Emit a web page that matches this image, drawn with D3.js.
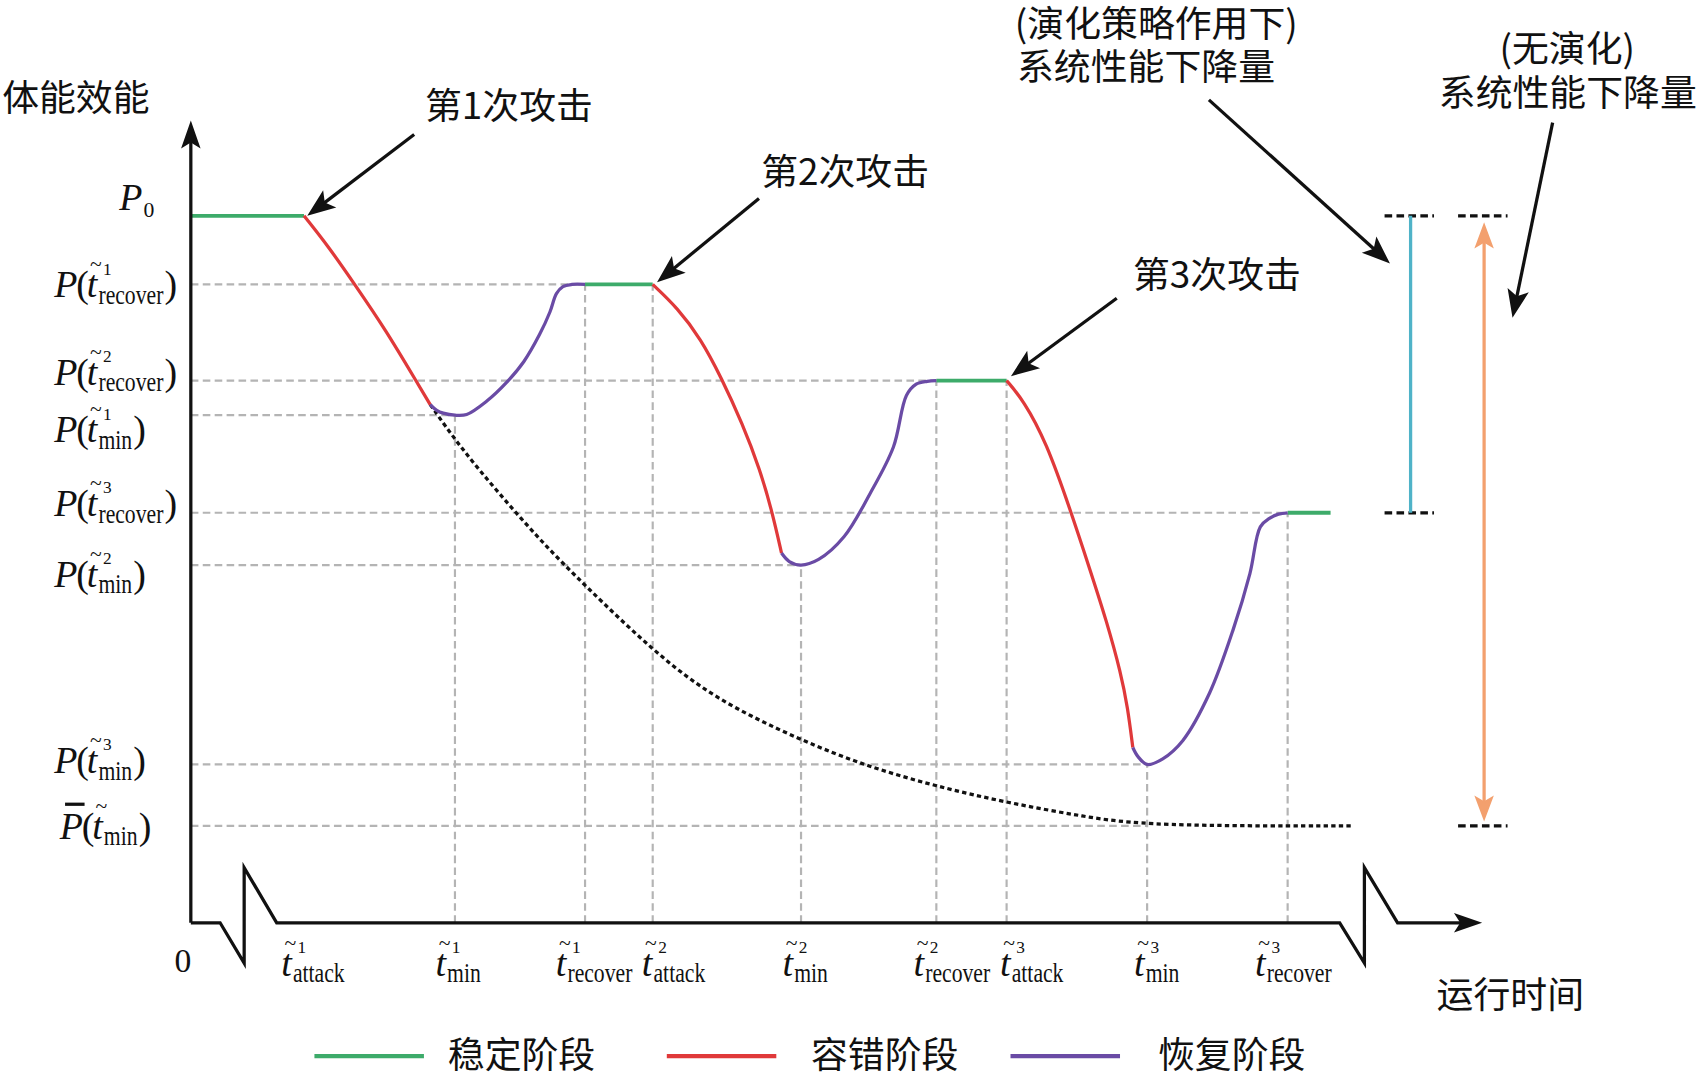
<!DOCTYPE html>
<html>
<head>
<meta charset="utf-8">
<script src="https://cdn.jsdelivr.net/npm/d3@7"></script>
<style>
  html, body { margin: 0; padding: 0; background: #fff; }
  svg { display: block; }
  .cn { font-family: "Noto Sans CJK SC", sans-serif; font-size: 34px; fill: #111; }
  .m { font-family: "Liberation Serif", "DejaVu Serif", serif; fill: #111; }
  .it { font-style: italic; }
</style>
</head>
<body>
<svg id="chart"></svg>
<script>
// time marks on the horizontal axis (time units 0..100)
const tickRounds = ['1', '1', '1', '2', '2', '2', '3', '3', '3'];
const tickSubs = ['attack', 'min', 'recover', 'attack', 'min', 'recover', 'attack', 'min', 'recover'];
const tickTimes = [8.7, 20.3, 30.3, 35.5, 46.9, 57.3, 62.7, 73.5, 84.3];

// performance levels read on the vertical axis (P0 = 100)
const levelRounds = ['', '1', '2', '1', '3', '2', '3', ''];
const levelSubs = ['0', 'recover', 'recover', 'min', 'recover', 'min', 'min', 'min'];
const levelValues = [100, 90.3, 76.7, 71.8, 58.0, 50.6, 22.4, 13.7];

// stable phases
const stable = [
  [[0, 100], [8.7, 100]],
  [[30.3, 90.3], [35.5, 90.3]],
  [[57.3, 76.7], [62.7, 76.7]],
  [[84.3, 58.0], [87.6, 58.0]]
];

// fault tolerant phases (after each attack)
const fault = [
  [[8.7, 100], [10.6, 95.6], [12.6, 90.3], [15.0, 83.8], [17.3, 76.7], [18.4, 73.3]],
  [[35.5, 90.3], [37.4, 87.0], [39.2, 82.6], [40.75, 77.2], [42.4, 70.6], [43.75, 64.1], [44.7, 58.0], [45.4, 52.3]],
  [[62.7, 76.7], [64.0, 73.9], [65.75, 68.0], [67.6, 58.4], [69.1, 50.0], [70.4, 42.6], [71.5, 35.2], [72.0, 30.5], [72.4, 24.8]]
];

// recovery phases
const recovery = [
  [[18.4, 73.3], [18.9, 72.5], [19.4, 72.1], [20.3, 71.8], [21.2, 71.9], [22.75, 73.8], [24.25, 76.4],
   [25.6, 79.4], [26.8, 83.2], [27.6, 86.4], [28.1, 89.0], [28.6, 90.0], [29.3, 90.3], [30.3, 90.3]],
  [[45.4, 52.3], [46.0, 51.1], [46.9, 50.6], [48.25, 51.4], [50.2, 54.6], [52.2, 60.7], [54.0, 67.3],
   [55.0, 74.6], [55.75, 76.2], [56.6, 76.6], [57.3, 76.7]],
  [[72.4, 24.8], [72.8, 23.5], [73.5, 22.4], [74.7, 23.2], [76.25, 25.8], [78.3, 32.5], [80.1, 41.4],
   [81.4, 49.4], [82.2, 56.0], [82.9, 57.2], [83.6, 57.8], [84.3, 58.0]]
];

// performance without evolution strategy
const noEvolution = [[18.4, 73.3], [20.7, 67.3], [23.7, 60.7], [27.0, 53.8], [30.3, 47.7], [35.5, 38.5],
  [40.3, 31.6], [46.9, 25.8], [52.0, 22.1], [57.3, 19.3], [62.7, 17.0], [68.7, 15.0], [73.5, 13.7], [89.25, 13.7]];

// dashed guides: [level index, tick index]
const hGuides = [[1, 3], [2, 6], [3, 1], [4, 8], [5, 4], [6, 7], [7, 7]];
const vGuides = [[1, 3], [2, 1], [3, 1], [4, 5], [5, 2], [6, 2], [7, 6], [8, 4]];

const legendNames = ['稳定阶段', '容错阶段', '恢复阶段'];

const W = 1567, H = 995;
const svg = d3.select('#chart')
    .attr('width', 1699).attr('height', 1079)
    .attr('viewBox', `0 0 ${W} ${H}`);

const x = d3.scaleLinear().domain([0, 100]).range([176, 1376]);
const y = d3.scaleLinear().domain([0, 100]).range([851, 199]);

const col = {
  stable: '#3dab6a', fault: '#e0393a', recover: '#6a4ba5',
  evo: '#4fb3c8', noevo: '#f3a06e', grid: '#b4b4b4', ink: '#111'
};

const smooth = d3.line().x((d) => x(d[0])).y((d) => y(d[1])).curve(d3.curveBasis);
const bendy = d3.line().x((d) => x(d[0])).y((d) => y(d[1])).curve(d3.curveCatmullRom.alpha(0.5));
const straight = d3.line().x((d) => x(d[0])).y((d) => y(d[1]));

// arrow head (notched), returns the point where the shaft should stop
function head(g, x1, y1, x2, y2, len, half, color) {
  const a = Math.atan2(y2 - y1, x2 - x1);
  const ux = Math.cos(a), uy = Math.sin(a);
  const bx = x2 - ux * len, by = y2 - uy * len;
  const nx = -uy, ny = ux;
  const pts = [[x2, y2], [bx + nx * half, by + ny * half],
    [x2 - ux * len * 0.78, y2 - uy * len * 0.78], [bx - nx * half, by - ny * half]];
  g.append('path').attr('d', 'M' + pts.join('L') + 'Z').attr('fill', color);
  return [x2 - ux * len * 0.7, y2 - uy * len * 0.7];
}
function arrow(g, x1, y1, x2, y2, color, w) {
  const e = head(g, x1, y1, x2, y2, 26, 10, color);
  g.append('line').attr('x1', x1).attr('y1', y1).attr('x2', e[0]).attr('y2', e[1])
      .attr('stroke', color).attr('stroke-width', w || 3);
}

const grid = svg.append('g');
const marks = svg.append('g');
const deco = svg.append('g');

// dashed guides
hGuides.forEach(([li, ti]) => {
  grid.append('line')
      .attr('x1', x(0)).attr('x2', x(tickTimes[ti]))
      .attr('y1', y(levelValues[li])).attr('y2', y(levelValues[li]))
      .attr('stroke', col.grid).attr('stroke-width', 2).attr('stroke-dasharray', '7,4');
});
vGuides.forEach(([ti, li]) => {
  grid.append('line')
      .attr('x1', x(tickTimes[ti])).attr('x2', x(tickTimes[ti]))
      .attr('y1', y(0)).attr('y2', y(levelValues[li]))
      .attr('stroke', col.grid).attr('stroke-width', 2).attr('stroke-dasharray', '7,4');
});

// curves
marks.append('path').attr('d', smooth(noEvolution)).attr('fill', 'none')
    .attr('stroke', col.ink).attr('stroke-width', 3).attr('stroke-dasharray', '4,3');
marks.selectAll('.stable').data(stable).join('path').attr('class', 'stable')
    .attr('d', straight).attr('fill', 'none').attr('stroke', col.stable).attr('stroke-width', 3.5);
marks.selectAll('.fault').data(fault).join('path').attr('class', 'fault')
    .attr('d', smooth).attr('fill', 'none').attr('stroke', col.fault).attr('stroke-width', 3);
marks.selectAll('.recover').data(recovery).join('path').attr('class', 'recover')
    .attr('d', bendy).attr('fill', 'none').attr('stroke', col.recover).attr('stroke-width', 3);

// axes with breaks
const axisBreak = [[0, 0], [2.25, 0], [4.1, -5.7], [4.1, 7.8], [6.6, 0], [88.3, 0],
  [90.2, -5.7], [90.2, 7.8], [92.75, 0], [98, 0]];
deco.append('path')
    .attr('d', straight(axisBreak))
    .attr('fill', 'none').attr('stroke', col.ink).attr('stroke-width', 3);
head(deco, x(90), y(0), x(99.25), y(0), 26, 9, col.ink);
const yTop = head(deco, x(0), y(0), x(0), y(113.5), 26, 9, col.ink);
deco.append('line').attr('x1', x(0)).attr('x2', x(0)).attr('y1', y(0)).attr('y2', yTop[1])
    .attr('stroke', col.ink).attr('stroke-width', 3);

// drop ranges on the right
const evoX = 93.75, noEvoX = 99.4;
[[evoX, levelValues[0]], [evoX, levelValues[4]], [noEvoX, levelValues[0]], [noEvoX, levelValues[7]]]
    .forEach(([cx, lv]) => {
      deco.append('line').attr('x1', x(cx - 2)).attr('x2', x(cx + 1.8))
          .attr('y1', y(lv)).attr('y2', y(lv))
          .attr('stroke', col.ink).attr('stroke-width', 3).attr('stroke-dasharray', '7,4');
    });
deco.append('line').attr('x1', x(evoX)).attr('x2', x(evoX))
    .attr('y1', y(levelValues[0])).attr('y2', y(levelValues[4]))
    .attr('stroke', col.evo).attr('stroke-width', 3);
const oTop = head(deco, x(noEvoX), y(50), x(noEvoX), y(levelValues[0]) + 6, 24, 9, col.noevo);
const oBot = head(deco, x(noEvoX), y(50), x(noEvoX), y(levelValues[7]) - 4, 24, 9, col.noevo);
deco.append('line').attr('x1', x(noEvoX)).attr('x2', x(noEvoX))
    .attr('y1', oTop[1]).attr('y2', oBot[1])
    .attr('stroke', col.noevo).attr('stroke-width', 3);

// math labels
const MS = 35;
function mtext(g, x0, y0, s, size, italic) {
  const t = g.append('text').attr('class', 'm' + (italic ? ' it' : ''))
      .attr('x', x0).attr('y', y0).style('font-size', size + 'px').text(s);
  return t.node().getComputedTextLength();
}
function tTilde(g, x0, y0, round, sub) {
  const tw = mtext(g, x0, y0, 't', MS, true);
  mtext(g, x0 + 3, y0 - 24, '~', 20, false);
  if (round) mtext(g, x0 + 15, y0 - 21, round, 16, false);
  const sx = x0 + tw + 1;
  const st = g.append('text').attr('class', 'm')
      .attr('transform', `translate(${sx},${y0 + 6}) scale(1,1.3)`)
      .style('font-size', '20px').text(sub);
  return sx + st.node().getComputedTextLength();
}
function yLabel(g, x0, y0, round, sub, bar) {
  let cx = x0;
  cx += mtext(g, cx, y0, 'P', MS, true) - 1;
  if (bar) {
    g.append('line').attr('x1', x0 + 5).attr('x2', x0 + 23)
        .attr('y1', y0 - 32).attr('y2', y0 - 32).attr('stroke', col.ink).attr('stroke-width', 3);
  }
  cx += mtext(g, cx, y0, '(', MS, false) - 2;
  cx = tTilde(g, cx, y0, round, sub) + 1;
  mtext(g, cx, y0, ')', MS, false);
}

const labels = svg.append('g');
// P0
const pw = mtext(labels, 110, y(levelValues[0]) - 5, 'P', MS, true);
mtext(labels, 110 + pw + 1, y(levelValues[0]) + 1, levelSubs[0], 20, false);
// other level labels: left edge and baseline shift from the guide
const yLabelLeft = [0, 50, 50, 50, 50, 50, 50, 55];
const yLabelDy = [0, 12, 4, 25, 3, 20, 8, 12];
levelValues.forEach((v, i) => {
  if (i === 0) return;
  yLabel(labels, yLabelLeft[i], y(v) + yLabelDy[i], levelRounds[i], levelSubs[i], i === 7);
});

// time labels: shift of the t from its tick
const tickShift = [-21, -18, -27, -10, -17, -21, -6, -12, -30];
tickTimes.forEach((t, i) => {
  tTilde(labels, x(t) + tickShift[i], y(0) + 49, tickRounds[i], tickSubs[i]);
});
mtext(labels, 161, y(0) + 45, '0', 31, false);

// chinese texts
const cn = (tx, ty, s) => labels.append('text').attr('class', 'cn').attr('x', tx).attr('y', ty).text(s);
cn(2, 102, '体能效能');
cn(1325, 930, '运行时间');
cn(392, 110, '第1次攻击');
cn(702, 171, '第2次攻击');
cn(1045, 266, '第3次攻击');
cn(936, 34, '(演化策略作用下)');
cn(938, 74, '系统性能下降量');
cn(1383, 57, '(无演化)');
cn(1327, 98, '系统性能下降量');

// annotation arrows
arrow(deco, 382, 124, x(tickTimes[0]) + 3, y(levelValues[0]), col.ink);
arrow(deco, 700, 183, x(tickTimes[3]) + 4, y(levelValues[1]) - 2, col.ink);
arrow(deco, 1030, 275, x(tickTimes[6]) + 4, y(levelValues[2]) - 4, col.ink);
arrow(deco, 1115, 92, 1282, 243, col.ink);
arrow(deco, 1432, 113, 1395, 293, col.ink);

// legend
const legendColors = [col.stable, col.fault, col.recover];
const legendX = [290, 615, 932];
const legendTextX = [413, 748, 1068];
legendNames.forEach((name, i) => {
  labels.append('line').attr('x1', legendX[i]).attr('x2', legendX[i] + 101)
      .attr('y1', 974).attr('y2', 974)
      .attr('stroke', legendColors[i]).attr('stroke-width', 4);
  cn(legendTextX[i], 985, name);
});
</script>
</body>
</html>
